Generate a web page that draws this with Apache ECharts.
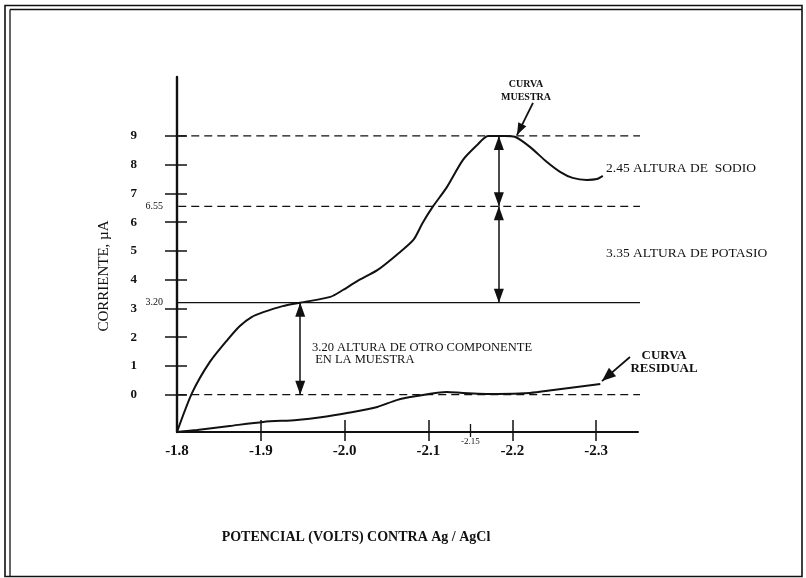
<!DOCTYPE html>
<html>
<head>
<meta charset="utf-8">
<script src="https://cdn.jsdelivr.net/npm/echarts@6/dist/echarts.min.js"></script>
<style>
  html, body { margin: 0; padding: 0; background: #ffffff; }
  #chart { width: 806px; height: 578px; }
</style>
</head>
<body>
<div id="chart"></div>
<script>
// Polarogram: current (µA) against potential (V vs Ag/AgCl)

// axis ticks
const xTicks = [-1.8, -1.9, -2.0, -2.1, -2.2, -2.3];
const peakTick = [-2.15];
const yTicks = [0, 1, 2, 3, 4, 5, 6, 7, 8, 9];

// reference levels: baseline, other component, potassium, sodium (peak)
const levels = [0, 3.20, 6.55, 9];
const levelSpan = [-1.786, -2.355];

// sample curve (CURVA MUESTRA)
const sampleV = [-1.800, -1.818, -1.839, -1.860, -1.875, -1.889, -1.903, -1.926, -1.947, -1.983,
                 -1.998, -2.015, -2.039, -2.062, -2.082, -2.093, -2.105, -2.122, -2.141, -2.158,
                 -2.171, -2.191, -2.203, -2.221, -2.241, -2.257, -2.272, -2.289, -2.301, -2.308];
const sampleI = [-1.30, 0.06, 1.13, 1.90, 2.39, 2.70, 2.87, 3.08, 3.20, 3.40,
                 3.64, 3.95, 4.33, 4.86, 5.38, 5.97, 6.53, 7.22, 8.16, 8.68,
                 9.00, 9.00, 8.97, 8.62, 8.10, 7.75, 7.54, 7.47, 7.50, 7.61];

// residual curve (CURVA RESIDUAL)
const residualV = [-1.800, -1.824, -1.863, -1.903, -1.943, -1.974, -2.003, -2.039, -2.062, -2.086,
                   -2.122, -2.141, -2.182, -2.221, -2.249, -2.305];
const residualI = [-1.30, -1.23, -1.09, -0.95, -0.88, -0.78, -0.64, -0.43, -0.19, -0.05,
                   0.09, 0.06, 0.02, 0.06, 0.16, 0.37];

// potentials where the height arrows stand
const heightArrowV = [-1.947, -2.184];

// pointers from the curve captions to the curves
const samplePointer = [[-2.2247, 10.15], [-2.2056, 9.03]];
const residualPointer = [[-2.3404, 1.31], [-2.307, 0.47]];

const SERIF = '"Liberation Serif", "DejaVu Serif", serif';
const BLACK = '#111111';

const zip = (a, b) => a.map((v, i) => [v, b[i]]);
const diff = (hi, lo) => (levels[hi] - levels[lo]).toFixed(2);

const chart = echarts.init(document.getElementById('chart'), null, { renderer: 'canvas' });

const xBase = {
  type: 'value', min: -2.35, max: -1.8, inverse: true, position: 'bottom',
  splitLine: { show: false }
};
const yBase = {
  type: 'value', min: -1.3, max: 11.05, position: 'left',
  splitLine: { show: false }
};
const hiddenLine = { show: false, onZero: false };

// horizontal reference lines
const levelSeries = levels.map((lvl, i) => ({
  type: 'line',
  xAxisIndex: 0, yAxisIndex: 0,
  clip: false,
  silent: true,
  showSymbol: false,
  data: [[levelSpan[0], lvl], [levelSpan[1], lvl]],
  lineStyle: {
    color: BLACK, width: 1.3,
    type: i === 1 ? 'solid' : [8, 5]
  },
  z: 2
}));

// double headed height arrows between consecutive levels
levelSeries[0].markLine = {
  silent: true,
  animation: false,
  label: { show: false },
  emphasis: { disabled: true },
  symbol: ['triangle', 'triangle'],
  symbolSize: [10, 14],
  symbolOffset: [[0, 7], [0, 7]],
  lineStyle: { color: BLACK, width: 1.5, type: 'solid' },
  data: [
    [{ coord: [heightArrowV[0], levels[1]] }, { coord: [heightArrowV[0], levels[0]] }],
    [{ coord: [heightArrowV[1], levels[2]] }, { coord: [heightArrowV[1], levels[1]] }],
    [{ coord: [heightArrowV[1], levels[3]] }, { coord: [heightArrowV[1], levels[2]] }]
  ]
};

const option = {
  animation: false,
  backgroundColor: '#ffffff',
  grid: { left: 177, top: 77, width: 461, height: 355, containLabel: false },
  xAxis: [
    Object.assign({}, xBase, {
      axisLine: { show: true, onZero: false, lineStyle: { color: BLACK, width: 2 } },
      axisTick: { show: true, inside: false, length: 9, customValues: xTicks.slice(1), lineStyle: { color: BLACK, width: 1.5 } },
      axisLabel: {
        show: true, customValues: xTicks, margin: 12,
        formatter: v => v.toFixed(1),
        color: BLACK, fontFamily: SERIF, fontSize: 15, fontWeight: 'bold'
      }
    }),
    Object.assign({}, xBase, {
      axisLine: hiddenLine,
      axisTick: { show: true, inside: true, length: 12, customValues: xTicks.slice(1), lineStyle: { color: BLACK, width: 1.5 } },
      axisLabel: { show: false }
    }),
    Object.assign({}, xBase, {
      axisLine: hiddenLine,
      axisTick: { show: true, inside: false, length: 5, customValues: peakTick, lineStyle: { color: BLACK, width: 1.3 } },
      axisLabel: {
        show: true, customValues: peakTick, margin: 5,
        formatter: v => v.toFixed(2),
        color: BLACK, fontFamily: SERIF, fontSize: 9
      }
    }),
    Object.assign({}, xBase, {
      axisLine: hiddenLine,
      axisTick: { show: true, inside: true, length: 8, customValues: peakTick, lineStyle: { color: BLACK, width: 1.3 } },
      axisLabel: { show: false }
    })
  ],
  yAxis: [
    Object.assign({}, yBase, {
      axisLine: { show: true, onZero: false, lineStyle: { color: BLACK, width: 2.4 } },
      axisTick: { show: true, inside: false, length: 12, customValues: yTicks, lineStyle: { color: BLACK, width: 1.5 } },
      axisLabel: {
        show: true, customValues: yTicks, margin: 40,
        color: BLACK, fontFamily: SERIF, fontSize: 13, fontWeight: 'bold'
      }
    }),
    Object.assign({}, yBase, {
      axisLine: hiddenLine,
      axisTick: { show: true, inside: true, length: 10, customValues: yTicks, lineStyle: { color: BLACK, width: 1.5 } },
      axisLabel: { show: false }
    }),
    Object.assign({}, yBase, {
      axisLine: hiddenLine,
      axisTick: { show: false },
      axisLabel: {
        show: true, customValues: [levels[1], levels[2]], margin: 14,
        formatter: v => v.toFixed(2),
        color: BLACK, fontFamily: SERIF, fontSize: 10, verticalAlign: 'middle'
      }
    })
  ],
  series: [
    ...levelSeries,
    {
      name: 'CURVA MUESTRA',
      type: 'line',
      smooth: 0.25,
      showSymbol: false,
      clip: false,
      data: zip(sampleV, sampleI),
      lineStyle: { color: BLACK, width: 2 },
      markLine: {
        silent: true, animation: false,
        label: { show: false },
        emphasis: { disabled: true },
        symbol: ['none', 'triangle'], symbolSize: [9, 12], symbolOffset: [[0, 0], [0, 6]],
        lineStyle: { color: BLACK, width: 1.8, type: 'solid' },
        data: [[{ coord: samplePointer[0] }, { coord: samplePointer[1] }]]
      },
      z: 3
    },
    {
      name: 'CURVA RESIDUAL',
      type: 'line',
      smooth: 0.25,
      showSymbol: false,
      clip: false,
      data: zip(residualV, residualI),
      lineStyle: { color: BLACK, width: 2 },
      markLine: {
        silent: true, animation: false,
        label: { show: false },
        emphasis: { disabled: true },
        symbol: ['none', 'triangle'], symbolSize: [11, 14], symbolOffset: [[0, 0], [0, 7]],
        lineStyle: { color: BLACK, width: 1.8, type: 'solid' },
        data: [[{ coord: residualPointer[0] }, { coord: residualPointer[1] }]]
      },
      z: 3
    }
  ],
  graphic: [
    // page frame
    { type: 'rect', silent: true, shape: { x: 5, y: 5.5, width: 797, height: 571 }, style: { fill: null, stroke: BLACK, lineWidth: 1.6 } },
    { type: 'line', silent: true, shape: { x1: 10, y1: 9.5, x2: 10, y2: 576 }, style: { stroke: BLACK, lineWidth: 1.3 } },
    { type: 'line', silent: true, shape: { x1: 10, y1: 9.5, x2: 802, y2: 9.5 }, style: { stroke: BLACK, lineWidth: 1.3 } },
    // axis titles
    { type: 'text', silent: true, x: 104, y: 276, rotation: Math.PI / 2,
      style: { text: 'CORRIENTE, µA', fill: BLACK, font: '15px ' + SERIF, align: 'center', verticalAlign: 'middle' } },
    { type: 'text', silent: true, x: 356, y: 537,
      style: { text: 'POTENCIAL (VOLTS) CONTRA Ag / AgCl', fill: BLACK, font: 'bold 14px ' + SERIF, align: 'center', verticalAlign: 'middle' } },
    // curve captions
    { type: 'text', silent: true, x: 526, y: 91,
      style: { text: 'CURVA\nMUESTRA', fill: BLACK, font: 'bold 10px ' + SERIF, lineHeight: 13, align: 'center', verticalAlign: 'middle' } },
    { type: 'text', silent: true, x: 664, y: 362,
      style: { text: 'CURVA\nRESIDUAL', fill: BLACK, font: 'bold 13px ' + SERIF, lineHeight: 13, align: 'center', verticalAlign: 'middle' } },
    // height captions
    { type: 'text', silent: true, x: 606, y: 168,
      style: { text: diff(3, 2) + ' ALTURA DE  SODIO', fill: BLACK, font: '13.5px ' + SERIF, align: 'left', verticalAlign: 'middle' } },
    { type: 'text', silent: true, x: 606, y: 253,
      style: { text: diff(2, 1) + ' ALTURA DE POTASIO', fill: BLACK, font: '13.5px ' + SERIF, align: 'left', verticalAlign: 'middle' } },
    { type: 'text', silent: true, x: 312, y: 354,
      style: { text: diff(1, 0) + ' ALTURA DE OTRO COMPONENTE\n EN LA MUESTRA', fill: BLACK, font: '12.5px ' + SERIF, lineHeight: 12, align: 'left', verticalAlign: 'middle' } }
  ]
};

chart.setOption(option);
</script>
</body>
</html>
